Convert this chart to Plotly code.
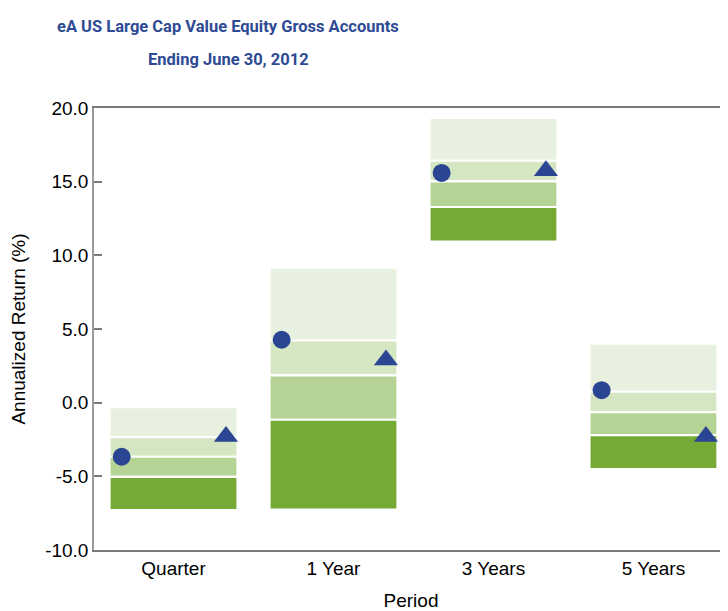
import plotly.graph_objects as go

categories = ["Quarter", "1 Year", "3 Years", "5 Years"]
p5 = [-0.30, 9.16, 19.32, 4.00]
p25 = [-2.34, 4.22, 16.42, 0.74]
p50 = [-3.67, 1.85, 15.02, -0.64]
p75 = [-5.03, -1.16, 13.28, -2.20]
p95 = [-7.29, -7.25, 10.94, -4.51]
circle_vals = [-3.67, 4.27, 15.59, 0.85]
triangle_vals = [-2.29, 2.90, 15.74, -2.29]
yticks = [-10, -5, 0, 5, 10, 15, 20]
title_lines = ["eA US Large Cap Value Equity Gross Accounts", "Ending June 30, 2012"]

band_colors = ["#E8F1E0", "#D5E6C2", "#B6D396", "#74AA35"]
blue = "#2A4693"

xs = list(range(len(categories)))
fig = go.Figure()
bands = [(p25, p5), (p50, p25), (p75, p50), (p95, p75)]
for (lo, hi), col in zip(bands, band_colors):
    fig.add_trace(go.Bar(
        x=xs, base=lo, y=[h - l for h, l in zip(hi, lo)],
        width=0.8, marker=dict(color=col, line=dict(color="white", width=2.2)),
        showlegend=False, hoverinfo="skip"))

fig.add_trace(go.Scatter(
    x=[i - 0.324 for i in xs], y=circle_vals, mode="markers",
    marker=dict(symbol="circle", size=18, color=blue, line=dict(width=0)),
    showlegend=False))
fig.add_trace(go.Scatter(
    x=[i + 0.328 for i in xs], y=triangle_vals, mode="markers",
    marker=dict(symbol="triangle-up", size=21, color=blue, line=dict(width=0)),
    showlegend=False))

# page has an 8px body margin; figure occupies 720x603 of the 728x611 window
W, H = 720, 603
L, T, B = 86, 100, 61
PW, PH = W - L, H - T - B
title_font = dict(family="Roboto, Liberation Sans, Arial", size=16.5, color="#2E4A94", weight="bold")
annots = []
for txt, yp in zip(title_lines, [18, 52]):
    annots.append(dict(text=txt, xref="paper", yref="paper",
                       x=(220 - L) / PW, y=1 + (T - yp) / PH,
                       xanchor="center", yanchor="middle", showarrow=False,
                       font=title_font))

fig.update_layout(
    width=W, height=H, barmode="overlay",
    margin=dict(l=L, r=0, t=T, b=B),
    plot_bgcolor="white", paper_bgcolor="white",
    font=dict(family="Liberation Sans, Arial, sans-serif", size=19, color="black"),
    annotations=annots,
)
fig.update_xaxes(
    range=[-0.497, 3.466], tickvals=xs, ticktext=categories, ticks="",
    showline=True, mirror=True, linecolor="#7a7a7a", linewidth=1.5,
    showgrid=False, zeroline=False, automargin=False,
    title=dict(text="Period", standoff=17, font=dict(size=19)))
fig.update_yaxes(
    range=[-10, 20], tickvals=yticks, ticktext=[f"{v:.1f}" for v in yticks],
    ticks="inside", ticklen=8, tickcolor="#7a7a7a", tickwidth=1.5,
    showline=True, linecolor="#9a9a9a", linewidth=1.5,
    showgrid=False, zeroline=False, automargin=False,
    title=dict(text="Annualized Return (%)", standoff=14, font=dict(size=19)))

fig.write_html("out.html")
